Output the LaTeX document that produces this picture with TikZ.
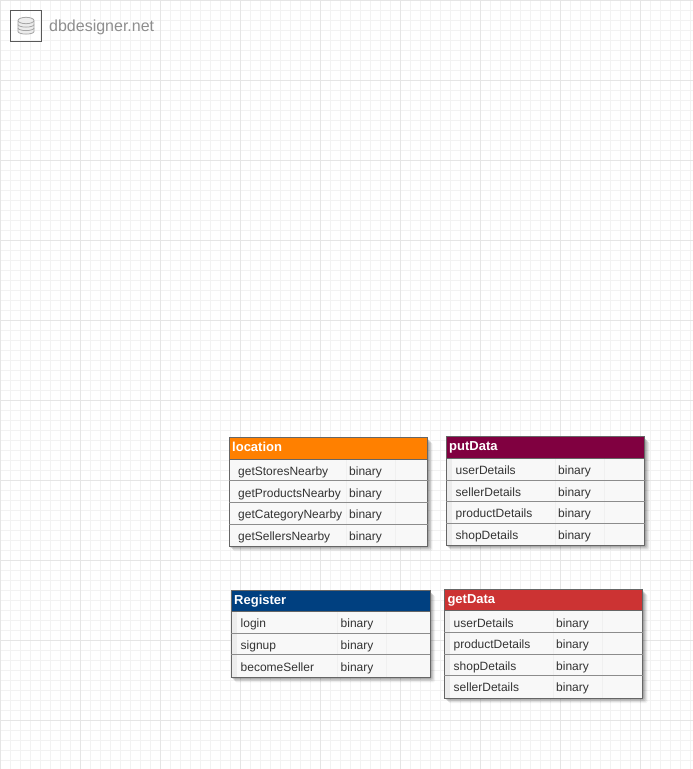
\documentclass[tikz,border=0pt]{standalone}
\usepackage{fontspec}
\setmainfont{Liberation Sans}
\definecolor{gridminor}{HTML}{F2F2F2}
\definecolor{gridmajor}{HTML}{E5E5E5}
\definecolor{cellbg}{HTML}{F8F8F8}
\definecolor{gutter}{HTML}{ECECEC}
\definecolor{cellsep}{HTML}{F0F0F0}
\definecolor{rowline}{HTML}{8C8C8C}
\definecolor{tabborder}{HTML}{666666}
\definecolor{txt}{HTML}{333333}
\definecolor{logogray}{HTML}{8E8E8E}
\definecolor{hdorange}{HTML}{FF8000}
\definecolor{hdmaroon}{HTML}{800040}
\definecolor{hdnavy}{HTML}{004080}
\definecolor{hdred}{HTML}{CC3333}
\tikzset{
  tabtitle/.style={anchor=base west,inner sep=0pt,text=white,font=\fontsize{13}{13}\selectfont\bfseries},
  field/.style={anchor=base west,inner sep=0pt,text=txt,font=\fontsize{12}{12}\selectfont},
  logotext/.style={anchor=base west,inner sep=0pt,text=logogray,font=\fontsize{16}{16}\selectfont},
  logobox/.style={draw=black!65,line width=1.1pt,minimum size=30.5pt,inner sep=0pt},
  dbdisk/.style={draw=logogray!80,fill=gutter,line width=0.8pt},
}
\newcommand{\gutterw}{6}
% #1 x left, #2 x right, #3 y top, #4 y header bottom, #5 y bottom, #6 colour, #7 title, #8 name, #9 x of type column
\newcommand{\tablebody}[9]{%
  \foreach \o/\a in {5/0.05,4/0.07,3/0.09,2/0.11,1/0.13}{
    \fill[black,opacity=\a,rounded corners=1.5pt] (#1+\o-1,#3+\o) rectangle (#2+\o,#5+\o);
  }
  \fill[cellbg] (#1,#4) rectangle (#2,#5);
  \fill[gutter] (#1,#4) rectangle (#1+\gutterw,#5);
  \draw[cellsep,line width=0.6pt] (#9-3,#4) -- (#9-3,#5);
  \draw[cellsep,line width=0.6pt] (#9+46,#4) -- (#9+46,#5);
  \fill[#6] (#1,#3) rectangle (#2,#4);
  \draw[tabborder,line width=0.9pt] (#1,#3) rectangle (#2,#5);
  \draw[tabborder,line width=0.7pt] (#1,#4) -- (#2,#4);
  \node[tabtitle] (#8) at (#1+3,#3+14) {#7};
}
\begin{document}
\begin{tikzpicture}[x=1pt,y=-1pt]
\useasboundingbox (0,0) rectangle (693,769);
\fill[white] (0,0) rectangle (693,769);
\foreach \x in {0,10,...,690}{\draw[gridminor,line width=0.8pt] (\x+0.5,0) -- (\x+0.5,769);}
\foreach \y in {0,10,...,760}{\draw[gridminor,line width=0.8pt] (0,\y+0.5) -- (693,\y+0.5);}
\foreach \x in {0,80,...,640}{\draw[gridmajor,line width=0.9pt] (\x+0.5,0) -- (\x+0.5,769);}
\foreach \y in {0,80,...,720}{\draw[gridmajor,line width=0.9pt] (0,\y+0.5) -- (693,\y+0.5);}

% logo
\node[logobox] (logo) at (26,26) {};
\foreach \yy in {30,26.5,23}{
  \draw[dbdisk] (18,\yy-2) -- (18,\yy+1.5) arc[start angle=180,end angle=360,x radius=8,y radius=-2.6] -- (34,\yy-2);
}
\draw[dbdisk] (26,20.5) ellipse[x radius=8,y radius=3.2];
\node[logotext] (brand) at (49,31) {dbdesigner.net};

% location
\renewcommand{\gutterw}{0}
\tablebody{229}{427.7}{437.5}{459.5}{546}{hdorange}{location}{location}{349}
\renewcommand{\gutterw}{6}
\foreach \yy in {480.7,502.3,524.3}{\draw[rowline,line width=0.8pt] (229,\yy) -- (427.7,\yy);}
\node[field] (l1) at (238,475) {getStoresNearby};
\node[field] (l1t) at (349,475) {binary};
\node[field] (l2) at (238,497) {getProductsNearby};
\node[field] (l2t) at (349,497) {binary};
\node[field] (l3) at (238,518) {getCategoryNearby};
\node[field] (l3t) at (349,518) {binary};
\node[field] (l4) at (238,540) {getSellersNearby};
\node[field] (l4t) at (349,540) {binary};

% putData
\tablebody{446}{644.7}{436.7}{458.7}{545.3}{hdmaroon}{putData}{putdata}{558}
\foreach \yy in {480,501.3,523.3}{\draw[rowline,line width=0.8pt] (446,\yy) -- (644.7,\yy);}
\node[field] (p1) at (455.5,474) {userDetails};
\node[field] (p1t) at (558,474) {binary};
\node[field] (p2) at (455.5,496) {sellerDetails};
\node[field] (p2t) at (558,496) {binary};
\node[field] (p3) at (455.5,517) {productDetails};
\node[field] (p3t) at (558,517) {binary};
\node[field] (p4) at (455.5,539) {shopDetails};
\node[field] (p4t) at (558,539) {binary};

% Register
\tablebody{231}{430}{590}{611.7}{677.3}{hdnavy}{Register}{register}{340.5}
\foreach \yy in {633.3,654.7}{\draw[rowline,line width=0.8pt] (231,\yy) -- (430,\yy);}
\node[field] (r1) at (240.5,627) {login};
\node[field] (r1t) at (340.5,627) {binary};
\node[field] (r2) at (240.5,649) {signup};
\node[field] (r2t) at (340.5,649) {binary};
\node[field] (r3) at (240.5,671) {becomeSeller};
\node[field] (r3t) at (340.5,671) {binary};

% getData
\tablebody{444.3}{642.7}{589.3}{610.7}{698}{hdred}{getData}{getdata}{556}
\foreach \yy in {632.3,654,675.3}{\draw[rowline,line width=0.8pt] (444.3,\yy) -- (642.7,\yy);}
\node[field] (g1) at (453.5,627) {userDetails};
\node[field] (g1t) at (556,627) {binary};
\node[field] (g2) at (453.5,648) {productDetails};
\node[field] (g2t) at (556,648) {binary};
\node[field] (g3) at (453.5,670) {shopDetails};
\node[field] (g3t) at (556,670) {binary};
\node[field] (g4) at (453.5,691) {sellerDetails};
\node[field] (g4t) at (556,691) {binary};
\end{tikzpicture}
\end{document}
